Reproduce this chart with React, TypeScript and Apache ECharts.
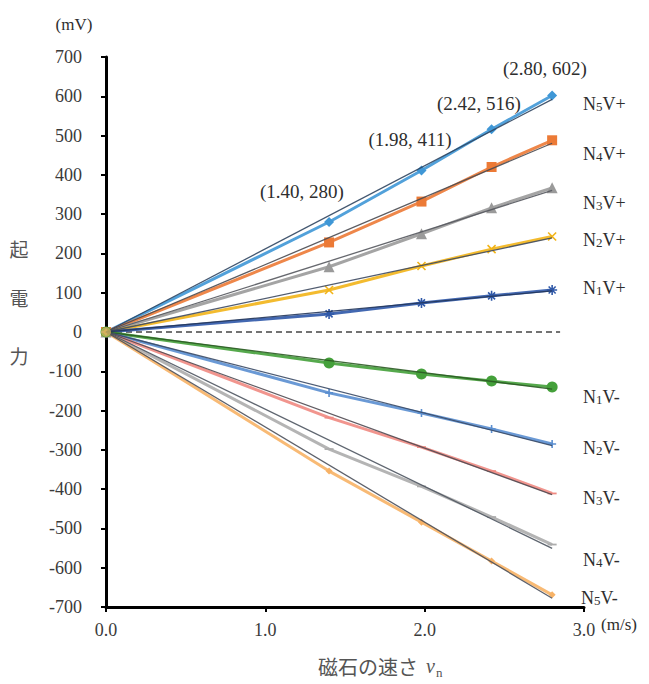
import React, { useEffect, useRef } from "react";
import * as echarts from "echarts";

// magnet speed (m/s)
const speeds = [0, 1.4, 1.98, 2.42, 2.8];

// electromotive force (mV)
const n5Plus = [0, 280, 411, 516, 602];
const n4Plus = [0, 228, 332, 420, 488];
const n3Plus = [0, 166, 250, 316, 367];
const n2Plus = [0, 107, 168, 211, 243];
const n1Plus = [0, 46, 74, 92, 107];
const n1Minus = [0, -79, -107, -125, -140];
const n2Minus = [0, -155, -206, -247, -285];
const n3Minus = [0, -218, -293, -354, -411];
const n4Minus = [0, -298, -393, -471, -541];
const n5Minus = [0, -354, -484, -583, -669];

const seriesNames = ["N5V+", "N4V+", "N3V+", "N2V+", "N1V+", "N1V-", "N2V-", "N3V-", "N4V-", "N5V-"];
const seriesValues = [n5Plus, n4Plus, n3Plus, n2Plus, n1Plus, n1Minus, n2Minus, n3Minus, n4Minus, n5Minus];

const yTicks = { min: -700, max: 700, step: 100 };
const xTicks = { min: 0, max: 3, step: 1 };
const zeroLineRange = [0, 2.85];

const SERIF = "'Liberation Serif', 'DejaVu Serif', serif";
const CJK = "'Noto Sans CJK JP', 'Noto Sans', sans-serif";

const styles = [
  { color: "#3f97d6", trend: "#2f4560", symbol: "diamond", size: 10 },
  { color: "#ec7a36", trend: "#4a4a50", symbol: "rect", size: 10 },
  { color: "#9a9a9a", trend: "#55585e", symbol: "triangle", size: 11 },
  { color: "#f2b418", trend: "#3e4a60", symbol: "path://M0,0L10,10M10,0L0,10", size: 8, stroke: true },
  { color: "#2f58a8", trend: "#24365a", symbol: "path://M5,0L5,10M0,5L10,5M1.5,1.5L8.5,8.5M8.5,1.5L1.5,8.5", size: 10, stroke: true },
  { color: "#44a03a", trend: "#2b5a24", symbol: "circle", size: 11 },
  { color: "#5a8ed0", trend: "#3a4a66", symbol: "path://M5,0L5,10M0,5L10,5", size: 8, stroke: true },
  { color: "#f08a82", trend: "#504a52", symbol: "path://M0,4L10,4L10,6L0,6Z", size: 9 },
  { color: "#acacac", trend: "#4e5560", symbol: "path://M0,4L10,4L10,6L0,6Z", size: 9 },
  { color: "#f7b266", trend: "#4a4f5a", symbol: "diamond", size: 7 },
];

const labelPos = [
  [583, 103], [583, 153], [583, 202], [583, 239], [583, 287],
  [583, 396], [583, 447], [583, 497], [583, 559], [581, 597],
];

const annotIdx = [1, 2, 3, 4];
const annotPos = [[302, 191], [410, 139], [479, 103], [545, 68]];

function fitSlope(xs: number[], ys: number[]) {
  let sxy = 0, sxx = 0;
  xs.forEach((x, i) => { sxy += x * ys[i]; sxx += x * x; });
  return sxy / sxx;
}

export default function App() {
  const ref = useRef<HTMLDivElement>(null);
  useEffect(() => {
    if (!ref.current) return;
    const chart = echarts.init(ref.current, undefined, { renderer: "svg" });
    const series: any[] = [];
    seriesValues.forEach((vals, i) => {
      const st = styles[i];
      series.push({
        name: seriesNames[i],
        type: "line",
        data: speeds.map((x, j) => [x, vals[j]]),
        symbol: st.symbol,
        symbolSize: st.size,
        symbolKeepAspect: true,
        lineStyle: { color: st.color, width: 3, opacity: 0.9 },
        itemStyle: st.stroke
          ? { color: st.color, borderColor: st.color, borderWidth: 1.6 }
          : { color: st.color, borderWidth: 0 },
        z: 2,
      });
      const k = fitSlope(speeds, vals);
      const xEnd = speeds[speeds.length - 1];
      series.push({
        type: "line",
        data: [[0, 0], [xEnd, k * xEnd]],
        symbol: "none",
        lineStyle: { color: st.trend, width: 1.3, opacity: 0.9 },
        z: 3,
        silent: true,
      });
    });
    series.push({
      type: "line",
      data: zeroLineRange.map((x) => [x, 0]),
      symbol: "none",
      clip: false,
      lineStyle: { color: "#444", width: 1.3, type: [6, 4] },
      z: 1,
    });
    // origin marker (overlapping points at 0,0)
    series.push({
      type: "scatter",
      data: [[speeds[0], n5Plus[0]]],
      symbol: "circle",
      symbolSize: 10,
      itemStyle: { color: "#cdb25a" },
      z: 4,
    });

    const txt = (x: number, y: number, text: string, extra: any = {}) => ({
      type: "text",
      x,
      y,
      style: {
        text,
        fontFamily: SERIF,
        fontSize: 18,
        fill: "#2e2e2e",
        align: "center",
        verticalAlign: "middle",
        ...extra,
      },
    });

    const graphics: any[] = [];
    seriesNames.forEach((name, i) => {
      const m = name.match(/^N(\d)(V.)$/)!;
      graphics.push({
        type: "text",
        x: labelPos[i][0],
        y: labelPos[i][1],
        style: {
          text: `{a|N}{b|${m[1]}}{a|${m[2]}}`,
          align: "left",
          verticalAlign: "middle",
          rich: {
            a: { fontFamily: SERIF, fontSize: 18, fill: "#2e2e2e", verticalAlign: "bottom", lineHeight: 20 },
            b: { fontFamily: SERIF, fontSize: 13, fill: "#2e2e2e", verticalAlign: "bottom", lineHeight: 20 },
          },
        },
      });
    });
    annotIdx.forEach((idx, i) => {
      graphics.push(txt(annotPos[i][0], annotPos[i][1], `(${speeds[idx].toFixed(2)}, ${n5Plus[idx]})`, { fontSize: 19 }));
    });
    graphics.push(txt(74, 24, "(mV)", { fontSize: 17 }));
    graphics.push(txt(619, 624, "(m/s)", { fontSize: 17 }));
    graphics.push(txt(19, 248, "起", { fontFamily: CJK, fontSize: 19, fill: "#555" }));
    graphics.push(txt(19, 297, "電", { fontFamily: CJK, fontSize: 19, fill: "#555" }));
    graphics.push(txt(19, 355, "力", { fontFamily: CJK, fontSize: 19, fill: "#555" }));
    graphics.push(txt(318, 666, "磁石の速さ", { fontFamily: CJK, fontSize: 20, fill: "#555", align: "left" }));
    graphics.push(txt(426, 666, "v", { fontStyle: "italic", fontSize: 20, fill: "#555", align: "left" }));
    graphics.push(txt(436, 672, "n", { fontSize: 13, fill: "#555", align: "left" }));

    chart.setOption({
      animation: false,
      grid: { left: 106, right: 65, top: 57, bottom: 77 },
      xAxis: {
        type: "value",
        min: xTicks.min,
        max: xTicks.max,
        interval: xTicks.step,
        axisLine: { show: true, onZero: false, lineStyle: { color: "#000", width: 3 } },
        axisTick: { show: true, length: 5, lineStyle: { color: "#000", width: 2 } },
        axisLabel: {
          formatter: (v: number) => v.toFixed(1),
          fontFamily: SERIF,
          fontSize: 18,
          color: "#3a3a3a",
          margin: 14,
        },
        splitLine: { show: false },
      },
      yAxis: {
        type: "value",
        min: yTicks.min,
        max: yTicks.max,
        interval: yTicks.step,
        axisLine: { show: true, onZero: false, lineStyle: { color: "#000", width: 3 } },
        axisTick: { show: true, length: 5, lineStyle: { color: "#000", width: 2 } },
        axisLabel: { fontFamily: SERIF, fontSize: 18, color: "#3a3a3a", margin: 24 },
        splitLine: { show: false },
      },
      series,
      graphic: graphics,
    });
    return () => chart.dispose();
  }, []);
  return (
    <div
      ref={ref}
      style={{ position: "fixed", left: 0, top: 0, width: 649, height: 684, background: "#fff" }}
    />
  );
}
